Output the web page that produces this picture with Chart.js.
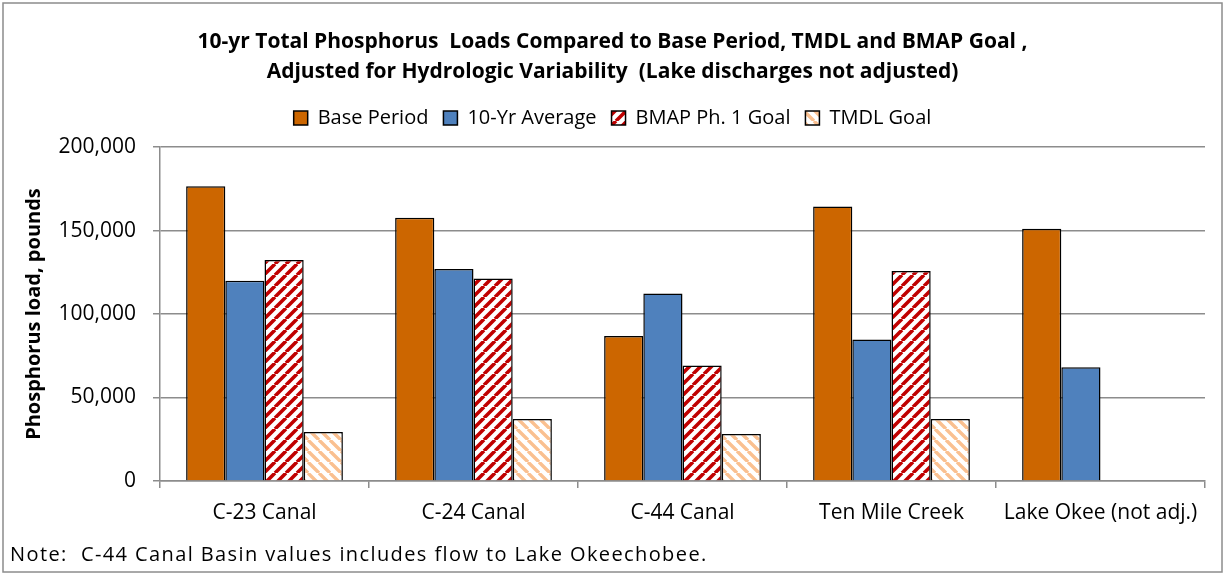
<!DOCTYPE html>
<html>
<head>
<meta charset="utf-8">
<script src="https://cdn.jsdelivr.net/npm/chart.js@4.4.1/dist/chart.umd.min.js"></script>
<style>
  body { margin: 0; background: #fff; }
  #wrap { width: 1225px; height: 575px; }
</style>
</head>
<body>
<div id="wrap"><canvas id="loadsChart" width="1225" height="575"></canvas></div>
<script>
// Dati del grafico
const basins = ['C-23 Canal', 'C-24 Canal', 'C-44 Canal', 'Ten Mile Creek', 'Lake Okee (not adj.)'];
const basePeriod = [176500, 157600, 86900, 164400, 151100];
const tenYrAverage = [119900, 126900, 112300, 84700, 68200];
const bmapGoal = [132400, 121300, 69200, 125700, null];
const tmdlGoal = [29400, 37200, 28200, 37200, null];
const yTicks = [0, 50000, 100000, 150000, 200000];

const FONT = '"Open Sans"';
const NOTE = 'Note:  C-44 Canal Basin values includes flow to Lake Okeechobee.';

// Riempimento a righe diagonali
function stripes(bg, fg, size, lw, dir) {
    const c = document.createElement('canvas');
    c.width = size; c.height = size;
    const g = c.getContext('2d');
    g.fillStyle = bg;
    g.fillRect(0, 0, size, size);
    g.strokeStyle = fg;
    g.lineWidth = lw;
    g.beginPath();
    for (let k = -1; k <= 1; k++) {
        if (dir === '/') {
            g.moveTo(k * size, size); g.lineTo(k * size + size, 0);
        } else {
            g.moveTo(k * size, 0); g.lineTo(k * size + size, size);
        }
    }
    g.stroke();
    return g.createPattern(c, 'repeat');
}

const ctx = document.getElementById('loadsChart').getContext('2d');
const redStripes = stripes('#ffffff', '#c00000', 11, 3.6, '/');
const orangeStripes = stripes('#ffffff', '#fac090', 11, 3.4, '\\');

// Spazio extra sotto la legenda
const legendMargin = {
    id: 'legendMargin',
    beforeInit(chart) {
        const fit = chart.legend.fit;
        chart.legend.fit = function () {
            fit.bind(chart.legend)();
            this.height += 9;
        };
    }
};

// Cornice e nota
const frameAndNote = {
    id: 'frameAndNote',
    afterDraw(chart) {
        const c = chart.ctx;
        c.save();
        c.strokeStyle = '#8c8c8c';
        c.lineWidth = 1.5;
        c.strokeRect(3, 3, 1219, 569);
        c.fillStyle = '#000';
        c.font = '20px ' + FONT;
        c.textBaseline = 'middle';
        c.textAlign = 'left';
        // allargamento verso la larghezza dell'originale
        const w = c.measureText(NOTE).width;
        c.letterSpacing = Math.min(1.4, Math.max(0, (736 - w) / NOTE.length)).toFixed(2) + 'px';
        c.fillText(NOTE, 10, 555);
        c.restore();
    }
};

const barBase = { borderColor: '#000000', borderWidth: 1.5, barPercentage: 1.0, categoryPercentage: 0.75 };

new Chart(ctx, {
    type: 'bar',
    data: {
        labels: basins,
        datasets: [
            Object.assign({ label: 'Base Period', data: basePeriod, backgroundColor: '#cc6600' }, barBase),
            Object.assign({ label: '10-Yr Average', data: tenYrAverage, backgroundColor: '#4f81bd' }, barBase),
            Object.assign({ label: 'BMAP Ph. 1 Goal', data: bmapGoal, backgroundColor: redStripes }, barBase),
            Object.assign({ label: 'TMDL Goal', data: tmdlGoal, backgroundColor: orangeStripes }, barBase)
        ]
    },
    options: {
        responsive: false,
        animation: false,
        layout: { padding: { left: 20, right: 20, top: 0, bottom: 0 } },
        plugins: {
            title: {
                display: true,
                text: ['10-yr Total Phosphorus  Loads Compared to Base Period, TMDL and BMAP Goal ,',
                       'Adjusted for Hydrologic Variability  (Lake discharges not adjusted)'],
                color: '#000',
                font: { family: FONT, size: 21, weight: 'bold', lineHeight: 1.43 },
                padding: { top: 27, bottom: 6 }
            },
            legend: {
                display: true,
                labels: {
                    color: '#000',
                    font: { family: FONT, size: 20 },
                    boxWidth: 14,
                    boxHeight: 14,
                    padding: 15
                }
            },
            tooltip: { enabled: false }
        },
        scales: {
            x: {
                grid: {
                    display: true,
                    drawOnChartArea: false,
                    drawTicks: true,
                    tickLength: 7,
                    color: '#8c8c8c',
                    lineWidth: 1.5
                },
                border: { display: true, color: '#8c8c8c', width: 1.5 },
                ticks: { color: '#000', font: { family: FONT, size: 21 }, padding: 12, maxRotation: 0 },
                afterFit(scale) { scale.height = 94; }
            },
            y: {
                min: 0,
                max: 200000,
                afterBuildTicks(scale) { scale.ticks = yTicks.map(v => ({ value: v })); },
                grid: {
                    color: '#8c8c8c',
                    lineWidth: 1.5,
                    drawTicks: true,
                    tickLength: 7
                },
                border: { display: true, color: '#8c8c8c', width: 1.5 },
                ticks: {
                    color: '#000',
                    font: { family: FONT, size: 21 },
                    padding: 17,
                    callback: v => v.toLocaleString('en-US')
                },
                title: {
                    display: true,
                    text: 'Phosphorus load, pounds',
                    color: '#000',
                    font: { family: FONT, size: 20, weight: 'bold' },
                    padding: { top: 2, bottom: 0 }
                },
                afterFit(scale) { scale.width = 140; }
            }
        }
    },
    plugins: [legendMargin, frameAndNote]
});
</script>
</body>
</html>
